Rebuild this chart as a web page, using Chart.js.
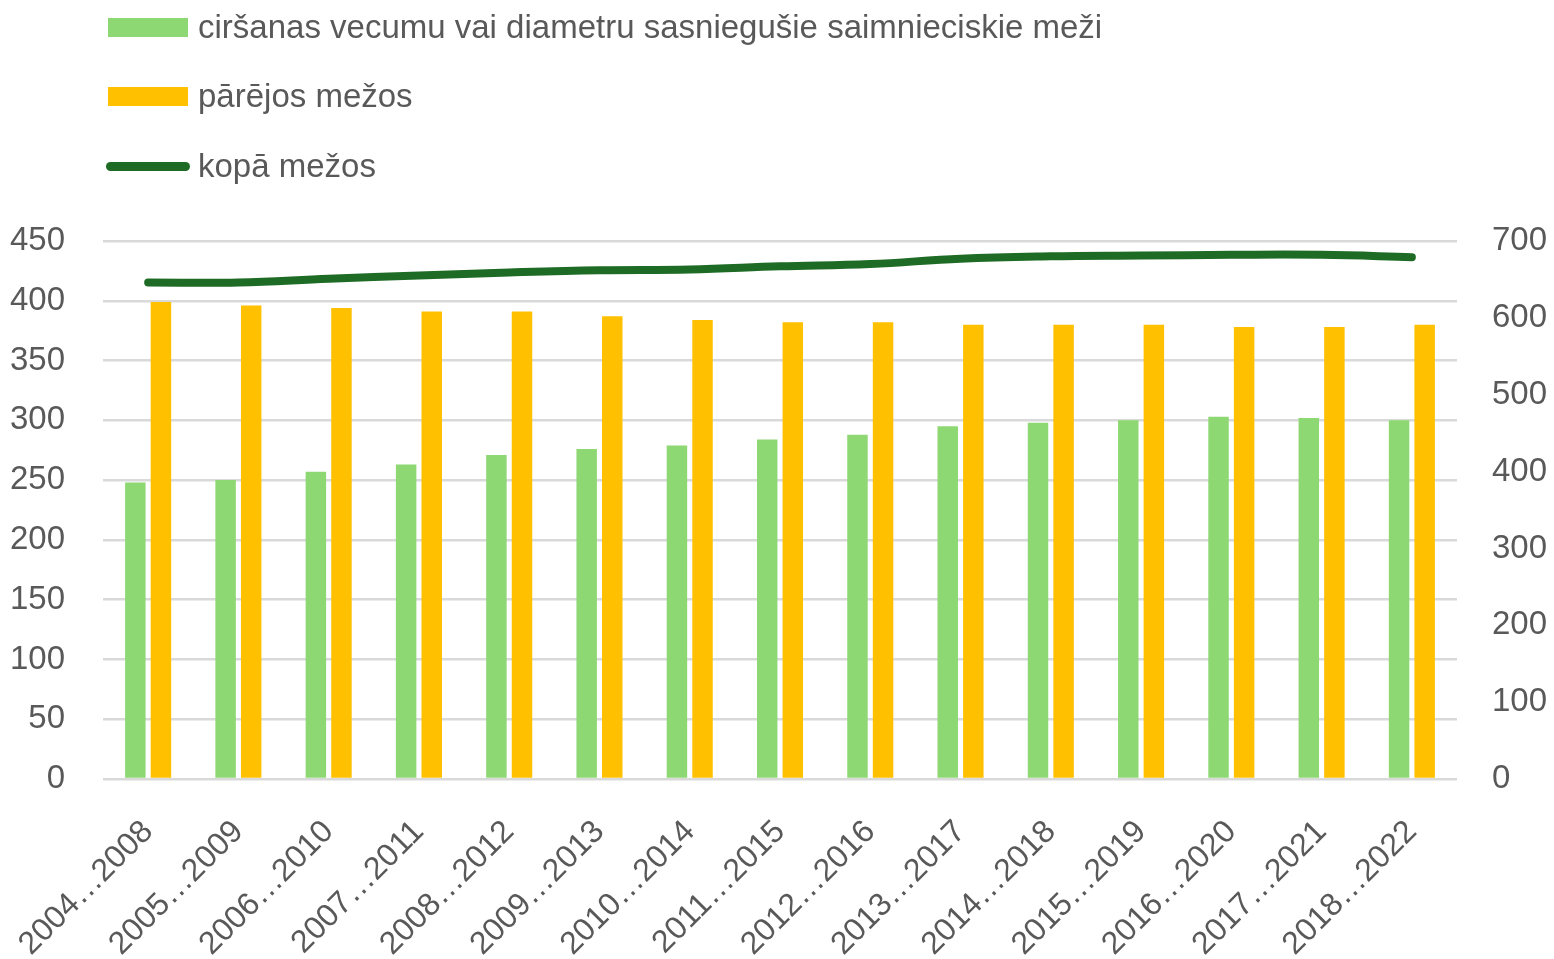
<!DOCTYPE html>
<html>
<head>
<meta charset="utf-8">
<script src="https://cdn.jsdelivr.net/npm/chart.js@4.4.0/dist/chart.umd.min.js"></script>
<style>
  html, body { margin: 0; padding: 0; background: #ffffff; overflow: hidden; }
  #wrap { position: relative; width: 1554px; height: 959px; }
  #c { position: absolute; left: 0; top: 0; }
  #legend { position: absolute; left: 108px; top: 0; font-family: "Liberation Sans", Arial, sans-serif; font-size: 33px; color: #595959; }
  .item { position: absolute; left: 0; height: 40px; display: flex; align-items: center; white-space: nowrap; }
  .sw { display: inline-block; width: 80px; margin-right: 10px; }
</style>
</head>
<body>
<div id="wrap">
  <canvas id="c" width="1554" height="959"></canvas>
  <div id="legend"></div>
</div>
<script>
const categories = ["2004…2008","2005…2009","2006…2010","2007…2011","2008…2012","2009…2013","2010…2014","2011…2015","2012…2016","2013…2017","2014…2018","2015…2019","2016…2020","2017…2021","2018…2022"];
const harvestAgeForests = [248, 250, 257, 263, 271, 276, 279, 284, 288, 295, 298, 300, 303, 302, 300];
const otherForests = [399, 396, 394, 391, 391, 387, 384, 382, 382, 380, 380, 380, 378, 378, 380];
const totalForests = [646, 646, 651, 655, 659, 662, 663, 667, 670, 677, 680, 681, 682, 682, 679];
const seriesNames = ["ciršanas vecumu vai diametru sasniegušie saimnieciskie meži", "pārējos mežos", "kopā mežos"];
const leftTicks = [0, 50, 100, 150, 200, 250, 300, 350, 400, 450];
const rightTicks = [0, 100, 200, 300, 400, 500, 600, 700];

const tickColor = "#595959";
const tickFont = { family: "Liberation Sans", size: 33 };
const xTickFont = { family: "Liberation Sans", size: 32 };

const chart = new Chart(document.getElementById("c"), {
  type: "bar",
  data: {
    labels: categories,
    datasets: [
      { label: seriesNames[0], data: harvestAgeForests, backgroundColor: "#8ED873", yAxisID: "y", categoryPercentage: 0.567, barPercentage: 0.8, order: 1 },
      { label: seriesNames[1], data: otherForests, backgroundColor: "#FFC000", yAxisID: "y", categoryPercentage: 0.567, barPercentage: 0.8, order: 1 },
      { type: "line", label: seriesNames[2], data: totalForests, borderColor: "#1D6B24", backgroundColor: "#1D6B24", borderWidth: 8, borderCapStyle: "round", borderJoinStyle: "round", pointRadius: 0, tension: 0.4, yAxisID: "y1", order: -1 }
    ]
  },
  options: {
    responsive: false,
    animation: false,
    events: [],
    layout: { padding: { top: 241, left: 10, right: 0, bottom: 0 } },
    plugins: { legend: { display: false }, tooltip: { enabled: false } },
    scales: {
      x: {
        afterFit: (ax) => { ax.height = 180; ax.paddingLeft = 0; ax.paddingRight = 0; },
        grid: { display: false },
        border: { display: false },
        ticks: { color: tickColor, font: xTickFont, minRotation: 45, maxRotation: 45, padding: 26 }
      },
      y: {
        position: "left",
        min: 0, max: 450,
        afterBuildTicks: (ax) => { ax.ticks = leftTicks.map(v => ({ value: v })); },
        afterFit: (ax) => { ax.width = 93; },
        grid: { color: "#D9D9D9", lineWidth: 2.5, drawTicks: false },
        border: { display: false },
        ticks: { color: tickColor, font: tickFont, padding: 38 }
      },
      y1: {
        position: "right",
        min: 0, max: 700,
        afterBuildTicks: (ax) => { ax.ticks = rightTicks.map(v => ({ value: v })); },
        afterFit: (ax) => { ax.width = 97; },
        grid: { display: false, drawTicks: false },
        border: { display: false },
        ticks: { color: tickColor, font: tickFont, padding: 35 }
      }
    }
  }
});

// HTML legend built from the chart datasets
const legendEl = document.getElementById("legend");
const centers = [27, 96, 166];
chart.data.datasets.forEach((ds, i) => {
  const item = document.createElement("div");
  item.className = "item";
  item.style.top = (centers[i] - 20) + "px";
  const sw = document.createElement("span");
  sw.className = "sw";
  if (ds.type === "line") {
    sw.style.height = "9px";
    sw.style.borderRadius = "5px";
    sw.style.background = ds.borderColor;
    sw.style.width = "84px";
    sw.style.marginLeft = "-2px";
    sw.style.marginRight = "8px";
  } else {
    sw.style.height = "19px";
    sw.style.background = ds.backgroundColor;
  }
  const tx = document.createElement("span");
  tx.textContent = ds.label;
  item.appendChild(sw);
  item.appendChild(tx);
  legendEl.appendChild(item);
});
</script>
</body>
</html>
